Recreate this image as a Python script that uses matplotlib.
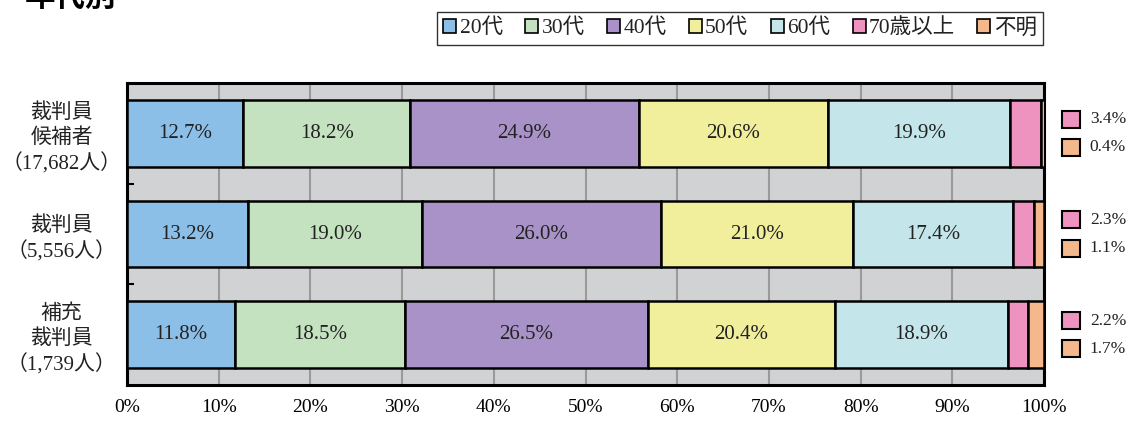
import matplotlib
matplotlib.use("Agg")
import matplotlib.pyplot as plt
from matplotlib.patches import Patch
import numpy as np

plt.rcParams['font.family'] = ['Liberation Serif', 'Noto Sans CJK JP', 'DejaVu Sans']

categories = ["裁判員\n候補者\n（17,682人）", "裁判員\n（5,556人）", "補充\n裁判員\n（1,739人）"]
series_names = ["20代", "30代", "40代", "50代", "60代", "70歳以上", "不明"]
v20 = [12.7, 13.2, 11.8]
v30 = [18.2, 19.0, 18.5]
v40 = [24.9, 26.0, 26.5]
v50 = [20.6, 21.0, 20.4]
v60 = [19.9, 17.4, 18.9]
v70 = [3.4, 2.3, 2.2]
vunk = [0.4, 1.1, 1.7]
xticks = [0, 10, 20, 30, 40, 50, 60, 70, 80, 90, 100]

colors = ["#8cbfe8", "#c4e2c0", "#a992c7", "#f1ef9c", "#c4e6ea", "#ee93c0", "#f5b88c"]
series = [v20, v30, v40, v50, v60, v70, vunk]

fig = plt.figure(figsize=(11.30, 4.21), dpi=100)
ax = fig.add_axes([127/1130, 1-385/421, (1044-127)/1130, (385-83)/421])
ax.set_facecolor("#d1d2d4")

y = np.arange(len(categories))
left = np.zeros(len(categories))
for i, (vals, col) in enumerate(zip(series, colors)):
    vals = np.array(vals)
    ax.barh(y, vals, left=left, height=0.66, color=col, edgecolor="black", linewidth=1.8, zorder=3)
    if i < 5:
        for yy, l, v in zip(y, left, vals):
            ax.text(l + v/2, yy, f"{v:.1f}%", ha="center", va="center", fontsize=15, color="#222222", zorder=4)
    left = left + vals

ax.set_xlim(0, 100)
ax.set_ylim(2.5, -0.5)
ax.set_xticks(xticks)
ax.set_xticklabels([f"{t}%" for t in xticks], fontsize=14)
ax.set_yticks(y)
ax.set_yticklabels(categories, fontsize=15, ha="center", linespacing=1.35, color="#222222")
ax.tick_params(axis="y", length=0, pad=47)
ax.tick_params(axis="x", length=0, pad=10)
ax.set_yticks([0.5, 1.5], minor=True)
ax.tick_params(axis="y", which="minor", direction="in", length=5, width=1.5, color="black")
ax.xaxis.grid(True, color="#9a9a9a", linewidth=1.5, zorder=1)
ax.set_axisbelow(True)
for s in ax.spines.values():
    s.set_linewidth(2.2)
    s.set_color("black")

# right-side small labels for 70+ and unknown
for yy, a, b in zip(y, v70, vunk):
    for off, val, col in [(-0.14, a, colors[5]), (0.14, b, colors[6])]:
        ax.add_patch(plt.Rectangle((102.0, yy + off - 0.085), 1.9, 0.17, facecolor=col,
                                   edgecolor="black", linewidth=1.5, clip_on=False,
                                   transform=ax.transData))
        ax.text(105.0, yy + off, f"{val:.1f}%", ha="left", va="center", fontsize=12.5, color="#222222")

handles = [Patch(facecolor=c, edgecolor="black", linewidth=1.2) for c in colors]
leg = fig.legend(handles, series_names, loc="center", bbox_to_anchor=(740/1130, 1-28.5/421), ncol=7,
                 fontsize=15.5, frameon=True, fancybox=False, edgecolor="black", handlelength=0.6,
                 handleheight=0.6, handletextpad=0.15, columnspacing=1.05, borderpad=0.3)
leg.get_frame().set_linewidth(1.0)
for t in leg.get_texts():
    t.set_color("#222222")

fig.text(25/1130, 1-6/421, "年代別", fontsize=22, fontweight="bold", ha="left", va="baseline",
         family=["Noto Sans CJK JP"])

fig.savefig("out.png", dpi=100, facecolor="white")
